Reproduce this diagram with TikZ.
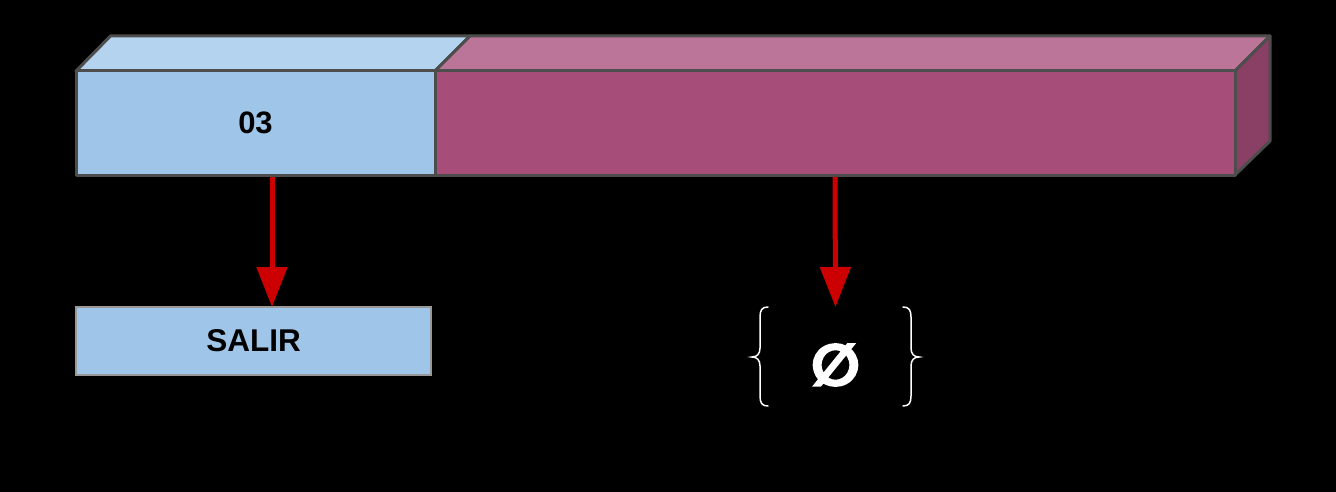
\documentclass[tikz,border=0pt]{standalone}
\usepackage{fontspec}
\setmainfont{Liberation Sans}
\newfontfamily\djv{DejaVu Sans}
\usetikzlibrary{arrows.meta}
\definecolor{bluefront}{HTML}{9FC5E8}
\definecolor{bluetop}{HTML}{B4D3EF}
\definecolor{pinkfront}{HTML}{A64D79}
\definecolor{pinktop}{HTML}{BA7598}
\definecolor{pinkside}{HTML}{8A3F65}
\definecolor{edge}{HTML}{4D4D4D}
\definecolor{arrred}{HTML}{CC0000}
\newcommand{\heavytext}[1]{\special{pdf:literal direct 2 Tr 1 G 3 w}#1\special{pdf:literal direct 0 Tr}}
\begin{document}
\begin{tikzpicture}[x=1pt,y=-1pt,
  face/.style={draw=edge,line width=3pt,line join=round},
  frontbox/.style={face,inner sep=0pt,outer sep=0pt,anchor=north west,
    font=\fontsize{31}{36}\selectfont\bfseries},
  arr/.style={draw=arrred,line width=5pt,-{Triangle[length=40pt,width=30pt]}},
  bracepath/.style={draw=white,line width=1.5pt,line cap=round}]
\useasboundingbox[fill=black] (0,0) rectangle (1336,492);
% top faces
\path[face,fill=bluetop] (76,71) -- (110.5,36) -- (470,36) -- (435,71) -- cycle;
\path[face,fill=pinktop] (435,71) -- (470,36) -- (1270,36) -- (1235,71) -- cycle;
\path[face,fill=pinkside] (1235,71) -- (1270,36) -- (1270,141) -- (1235,175) -- cycle;
% front faces
\node[frontbox,fill=bluefront,minimum width=359pt,minimum height=104pt] (blue) at (76,71) {03};
\node[frontbox,fill=pinkfront,minimum width=800pt,minimum height=104pt] (pink) at (435,71) {};
% result boxes
\node[draw=gray!80,line width=1.5pt,fill=bluefront,inner sep=0pt,outer sep=0pt,
  minimum width=355pt,minimum height=68pt,anchor=north west,
  font=\fontsize{31.5}{36}\selectfont\bfseries] (salir) at (76,307) {SALIR};
\node[text=white,inner sep=0pt,font=\djv\fontsize{56}{60}\selectfont\bfseries] (empty) at (835.5,365) {\heavytext{∅}};
\coordinate (etop) at (835.5,307);
% arrows
\draw[arr] ([xshift=16.5pt,yshift=-2pt]blue.south) -- ([xshift=18.5pt]salir.north);
\draw[arr] ([yshift=-2pt]pink.south) -- (etop);
% braces
\draw[bracepath] (768,307) .. controls (762,307) and (760,310) .. (760,317) -- (760,348)
  .. controls (760,354) and (757,357) .. (752,357)
  .. controls (757,357) and (760,360) .. (760,366) -- (760,396)
  .. controls (760,403) and (762,406) .. (768,406);
\draw[bracepath] (903,307) .. controls (909,307) and (911,310) .. (911,317) -- (911,348)
  .. controls (911,354) and (914,357) .. (919,357)
  .. controls (914,357) and (911,360) .. (911,366) -- (911,396)
  .. controls (911,403) and (909,406) .. (903,406);
\end{tikzpicture}
\end{document}
